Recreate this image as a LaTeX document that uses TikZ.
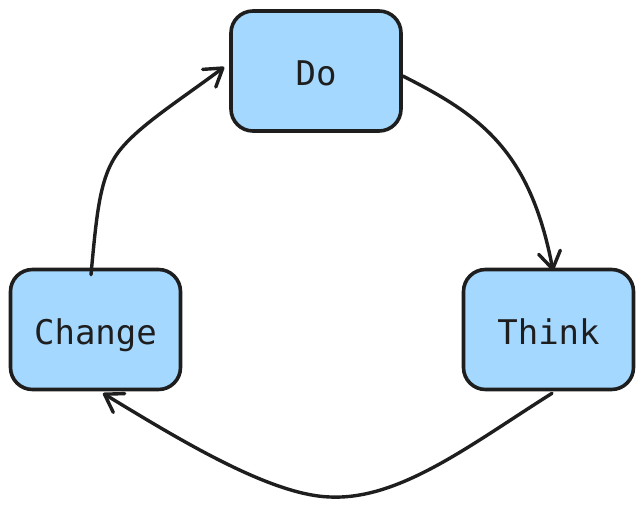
\documentclass[tikz,border=0pt]{standalone}
\usepackage{fontspec}
\setmonofont{DejaVu Sans Mono}
\usetikzlibrary{arrows.meta}
\definecolor{boxfill}{HTML}{A5D8FF}
\definecolor{ink}{HTML}{1E1E1E}
\tikzset{
  card/.style={draw=ink, fill=boxfill, line width=3.6pt, rounded corners=22pt,
    minimum width=170pt, minimum height=120pt, inner sep=0pt,
    text height=29pt, text depth=0pt,
    text=ink, font=\ttfamily\fontsize{34}{40}\selectfont},
  link/.style={draw=ink, line width=3.4pt, line cap=round,
    -{Straight Barb[length=17pt,width=22pt,line width=3.4pt,round]}}
}
\begin{document}
\begin{tikzpicture}[x=1pt,y=-1pt]
\useasboundingbox (0,0) rectangle (644,509);
\node[card] (do) at (316,71) {Do};
\node[card] (change) at (95.5,329.5) {Change};
\node[card] (think) at (548.5,329.5) {Think};
\coordinate (a1) at ([yshift=-5pt]do.east);
\coordinate (a1e) at ([xshift=4.5pt,yshift=-3pt]think.north);
\coordinate (a2) at ([xshift=3.5pt,yshift=-2pt]think.south);
\coordinate (a2e) at ([xshift=7.5pt,yshift=-2pt]change.south);
\coordinate (a3) at ([xshift=-4.5pt,yshift=-7pt]change.north);
\coordinate (a3e) at ([xshift=-5pt,yshift=4pt]do.west);
\draw[link] (a1) .. controls (480,115) and (530,150) .. (a1e);
\draw[link] (a2) .. controls (470,445) and (400,500) .. (330,497)
  .. controls (270,495) and (180,440) .. (a2e);
\draw[link] (a3) .. controls (97,210) and (100,175) .. (120,150)
  .. controls (140,125) and (180,100) .. (a3e);
\end{tikzpicture}
\end{document}
